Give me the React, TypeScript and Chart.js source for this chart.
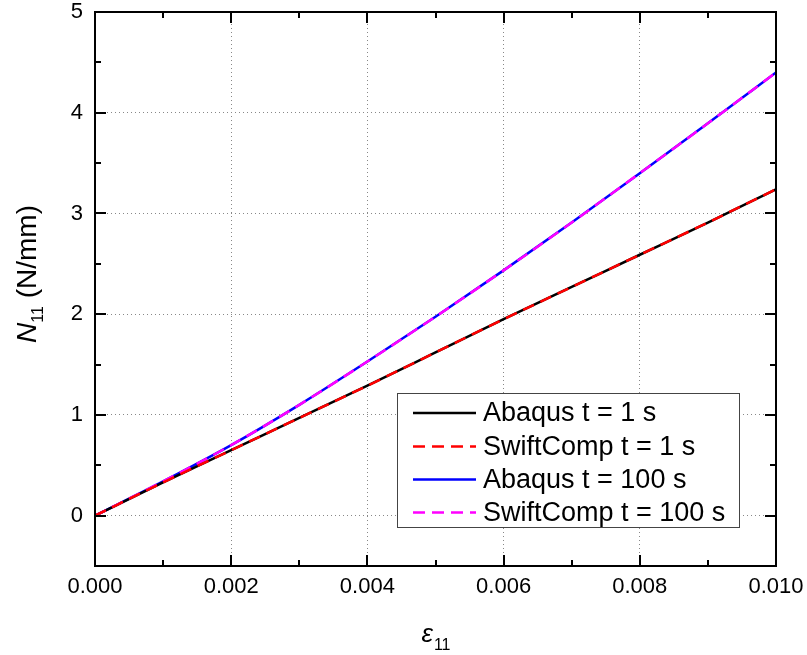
import React, { useEffect, useRef } from "react";
import { Chart, registerables } from "chart.js";

Chart.register(...registerables);

const strain = [0, 0.001, 0.002, 0.003, 0.004, 0.005, 0.006, 0.007, 0.008, 0.009, 0.01];
const abaqus1s = [0, 0.33, 0.65, 0.97, 1.29, 1.62, 1.95, 2.27, 2.59, 2.91, 3.24];
const swift1s = [0, 0.33, 0.65, 0.97, 1.29, 1.62, 1.95, 2.27, 2.59, 2.91, 3.24];
const abaqus100s = [0, 0.34, 0.7, 1.1, 1.53, 1.975, 2.435, 2.91, 3.4, 3.895, 4.4];
const swift100s = [0, 0.34, 0.7, 1.1, 1.53, 1.975, 2.435, 2.91, 3.4, 3.895, 4.4];
const xTicks = [0, 0.002, 0.004, 0.006, 0.008, 0.01];
const yTicks = [0, 1, 2, 3, 4, 5];
const xMinor = [0.001, 0.003, 0.005, 0.007, 0.009];
const yMinor = [-0.5, 0.5, 1.5, 2.5, 3.5, 4.5];
const seriesNames = ["Abaqus t = 1 s", "SwiftComp t = 1 s", "Abaqus t = 100 s", "SwiftComp t = 100 s"];

const FONT = "'Liberation Sans', Arial, sans-serif";

const framePlugin = {
  id: "frameTicks",
  afterDatasetsDraw(chart: any) {
    const { ctx, chartArea: a, scales } = chart;
    const xs = scales.x;
    const ys = scales.y;
    ctx.save();
    ctx.strokeStyle = "#000";
    ctx.lineWidth = 2;
    ctx.lineCap = "butt";
    ctx.strokeRect(a.left, a.top, a.right - a.left, a.bottom - a.top);
    const major = 11;
    const minor = 6;
    ctx.beginPath();
    const vt = (v: number, len: number) => {
      const px = Math.round(xs.getPixelForValue(v));
      ctx.moveTo(px, a.bottom);
      ctx.lineTo(px, a.bottom - len);
      ctx.moveTo(px, a.top);
      ctx.lineTo(px, a.top + len);
    };
    const ht = (v: number, len: number) => {
      const py = Math.round(ys.getPixelForValue(v));
      ctx.moveTo(a.left, py);
      ctx.lineTo(a.left + len, py);
      ctx.moveTo(a.right, py);
      ctx.lineTo(a.right - len, py);
    };
    xTicks.forEach((v) => vt(v, major));
    xMinor.forEach((v) => vt(v, minor));
    yTicks.forEach((v) => ht(v, major));
    yMinor.forEach((v) => ht(v, minor));
    ctx.stroke();

    // legend
    const bx = 397, by = 393, bw = 342, bh = 134;
    ctx.fillStyle = "#fff";
    ctx.fillRect(bx, by, bw, bh);
    ctx.strokeStyle = "#444";
    ctx.lineWidth = 1;
    ctx.strokeRect(bx + 0.5, by + 0.5, bw, bh);
    const rows = [413, 446.5, 479.5, 512.5];
    chart.data.datasets.forEach((ds: any, i: number) => {
      const y = rows[i];
      ctx.beginPath();
      ctx.strokeStyle = ds.borderColor;
      ctx.lineWidth = 2.5;
      ctx.setLineDash(ds.borderDash || []);
      ctx.moveTo(413, y);
      ctx.lineTo(476, y);
      ctx.stroke();
      ctx.setLineDash([]);
      ctx.fillStyle = "#000";
      ctx.font = `27px ${FONT}`;
      ctx.textBaseline = "middle";
      ctx.textAlign = "left";
      ctx.fillText(ds.label, 483, y + 1);
    });

    // x title
    ctx.textBaseline = "alphabetic";
    ctx.fillStyle = "#000";
    ctx.font = `italic 26px ${FONT}`;
    const eW = ctx.measureText("ε").width;
    ctx.font = `16px ${FONT}`;
    const sW = ctx.measureText("11").width;
    const cx = (a.left + a.right) / 2;
    const sx = cx - (eW + sW) / 2;
    ctx.font = `italic 26px ${FONT}`;
    ctx.fillText("ε", sx, 642);
    ctx.font = `16px ${FONT}`;
    ctx.fillText("11", sx + eW + 1, 650);

    // y title
    ctx.translate(36, 274);
    ctx.rotate(-Math.PI / 2);
    ctx.font = `italic 28px ${FONT}`;
    const nW = ctx.measureText("N").width;
    ctx.font = `16px ${FONT}`;
    const subW = ctx.measureText("11").width;
    ctx.font = `28px ${FONT}`;
    const restW = ctx.measureText(" (N/mm)").width;
    let tx = -(nW + subW + restW) / 2;
    ctx.font = `italic 28px ${FONT}`;
    ctx.fillText("N", tx, 0);
    tx += nW;
    ctx.font = `16px ${FONT}`;
    ctx.fillText("11", tx, 7);
    tx += subW;
    ctx.font = `28px ${FONT}`;
    ctx.fillText(" (N/mm)", tx, 0);
    ctx.restore();
  },
};

export default function App() {
  const ref = useRef<HTMLCanvasElement>(null);
  useEffect(() => {
    document.body.style.margin = "0";
    const mk = (ys: number[]) => strain.map((x, i) => ({ x, y: ys[i] }));
    const chart = new Chart(ref.current as HTMLCanvasElement, {
      type: "line",
      data: {
        datasets: [
          { label: seriesNames[0], data: mk(abaqus1s), borderColor: "#000000", borderWidth: 2.5, order: 2 },
          { label: seriesNames[1], data: mk(swift1s), borderColor: "#ff0000", borderWidth: 2.5, borderDash: [12, 7], order: 1 },
          { label: seriesNames[2], data: mk(abaqus100s), borderColor: "#0000ff", borderWidth: 2.5, order: 2 },
          { label: seriesNames[3], data: mk(swift100s), borderColor: "#ff00ff", borderWidth: 2.5, borderDash: [12, 7], order: 1 },
        ] as any,
      },
      options: {
        animation: false,
        responsive: false,
        events: [],
        layout: { padding: { top: 12, right: 31, left: 0, bottom: 0 } },
        elements: { point: { radius: 0 }, line: { cubicInterpolationMode: "monotone", fill: false } },
        plugins: { legend: { display: false }, tooltip: { enabled: false } },
        scales: {
          x: {
            type: "linear",
            min: 0,
            max: 0.01,
            border: { display: false, dash: [1, 3] },
            afterBuildTicks: (s: any) => { s.ticks = xTicks.map((v) => ({ value: v })); },
            afterFit: (s: any) => { s.height = 89; s.paddingLeft = 0; s.paddingRight = 0; },
            grid: { color: "#888", lineWidth: 1, drawTicks: false, tickLength: 0 },
            ticks: {
              padding: 8,
              color: "#000",
              font: { family: FONT, size: 22 },
              callback: (v: any) => Number(v).toFixed(3),
              maxRotation: 0,
            },
          },
          y: {
            type: "linear",
            min: -0.5,
            max: 5,
            border: { display: false, dash: [1, 3] },
            afterBuildTicks: (s: any) => { s.ticks = yTicks.map((v) => ({ value: v })); },
            afterFit: (s: any) => { s.width = 95; s.paddingTop = 0; s.paddingBottom = 0; },
            grid: { color: "#888", lineWidth: 1, drawTicks: false, tickLength: 0 },
            ticks: {
              padding: 12,
              color: "#000",
              font: { family: FONT, size: 22 },
              callback: (v: any) => String(v),
            },
          },
        },
      } as any,
      plugins: [framePlugin],
    });
    return () => chart.destroy();
  }, []);
  return (
    <div style={{ width: 807, height: 655 }}>
      <canvas ref={ref} width={807} height={655} />
    </div>
  );
}
